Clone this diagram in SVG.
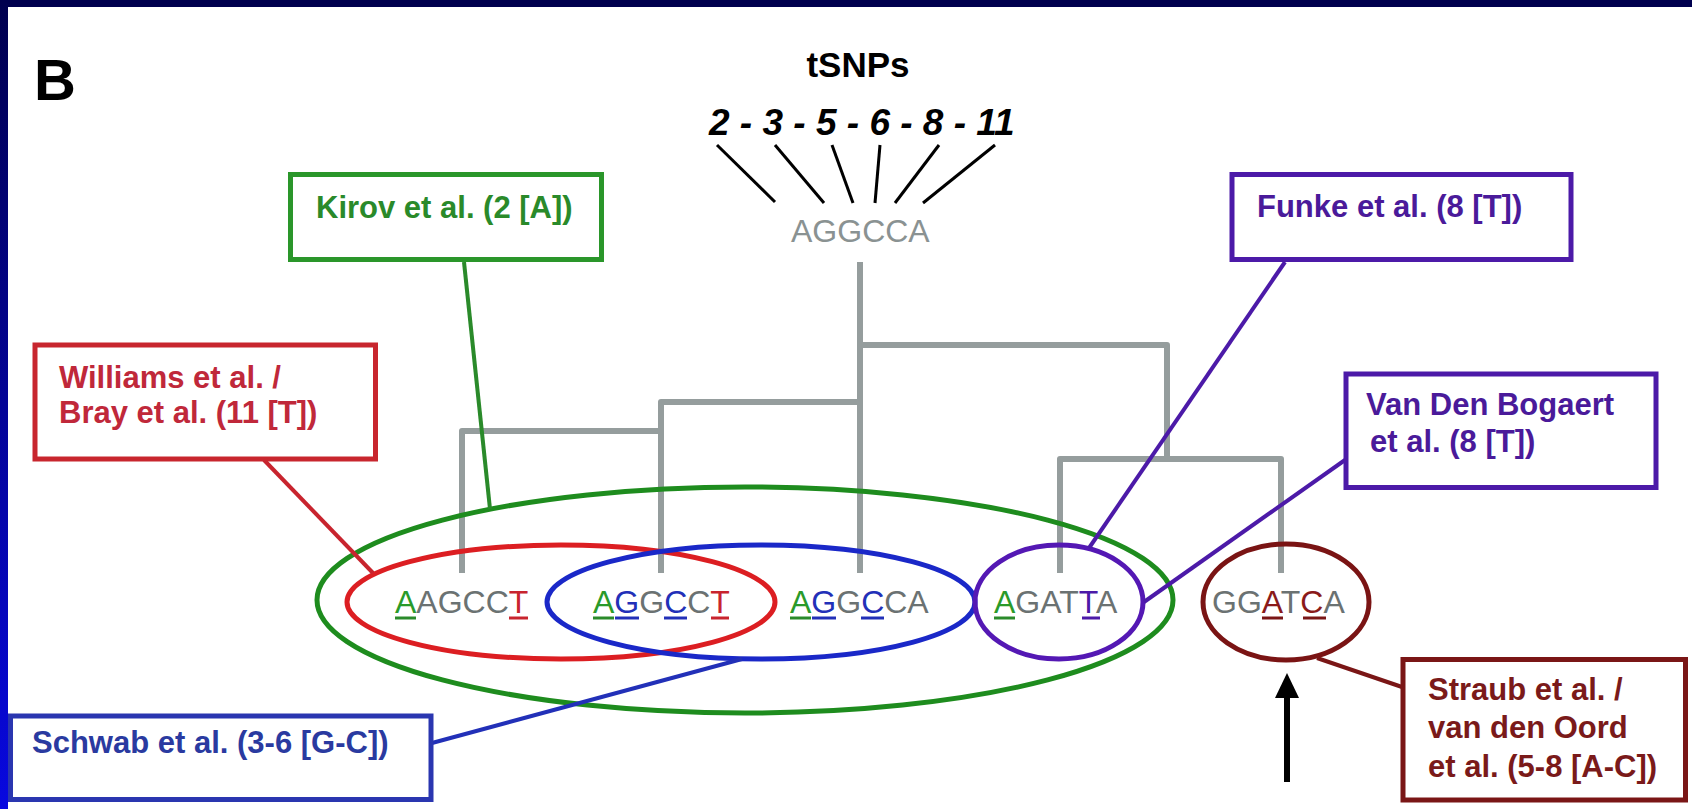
<svg xmlns="http://www.w3.org/2000/svg" width="1692" height="809" viewBox="0 0 1692 809">
<defs>
<linearGradient id="lb" x1="0" y1="0" x2="0" y2="1">
<stop offset="0" stop-color="#00004e"/>
<stop offset="1" stop-color="#0808e0"/>
</linearGradient>
<style>
.lbl{font-family:"Liberation Sans",Arial,sans-serif;font-weight:bold;font-size:31px}
.hap{font-family:"Liberation Sans",Arial,sans-serif;font-size:32px;fill:#6b7272}
.box{fill:#fff;stroke-width:5}
.ell{fill:none;stroke-width:5}
.con{fill:none;stroke-width:4}
.tree{fill:none;stroke:#959d9d;stroke-width:6;stroke-linejoin:round}
.ul{stroke-width:3}
.fan{stroke:#000;stroke-width:3}
.g{fill:#2a8a2a;stroke:#2a8a2a}
.r{fill:#c8242e;stroke:#c8242e}
.b{fill:#2230b8;stroke:#2230b8}
.p{fill:#4c1aa8;stroke:#4c1aa8}
.m{fill:#7a1616;stroke:#7a1616}
</style>
</defs>
<rect width="1692" height="809" fill="#fff"/>
<rect x="0" y="0" width="1692" height="7" fill="#00004e"/>
<rect x="0" y="0" width="8" height="809" fill="url(#lb)"/>

<text x="34" y="100" font-family="Liberation Sans, Arial, sans-serif" font-weight="bold" font-size="58" fill="#000">B</text>

<g id="header">
<text x="858" y="77" text-anchor="middle" font-family="Liberation Sans, Arial, sans-serif" font-weight="bold" font-size="35" fill="#000">tSNPs</text>
<text x="709" y="135" font-family="Liberation Sans, Arial, sans-serif" font-weight="bold" font-style="italic" font-size="37" fill="#000">2 - 3 - 5 - 6 - 8 - 11</text>
<line class="fan" x1="717" y1="145" x2="775" y2="202"/>
<line class="fan" x1="775" y1="145" x2="824" y2="203"/>
<line class="fan" x1="832" y1="145" x2="853" y2="203"/>
<line class="fan" x1="880" y1="145" x2="875" y2="203"/>
<line class="fan" x1="939" y1="145" x2="895" y2="203"/>
<line class="fan" x1="995" y1="145" x2="923" y2="203"/>
</g>

<g id="root">
<text x="791" y="242" font-family="Liberation Sans, Arial, sans-serif" font-size="32" fill="#8a9292">AGGCCA</text>
</g>

<g id="tree">
<path class="tree" d="M860 262V573M860 345H1167V459M1060 573V459H1281V573M860 402H661V573M661 431H462V573"/>
</g>

<g id="ellipses">
<ellipse id="ell-green" class="ell" stroke="#1e8c1e" cx="745" cy="600" rx="428" ry="113"/>
<ellipse id="ell-red" class="ell" stroke="#dc1e22" cx="561" cy="602" rx="214" ry="57"/>
<ellipse id="ell-blue" class="ell" stroke="#1a28c8" cx="761" cy="602" rx="214" ry="57"/>
<ellipse id="ell-purple" class="ell" stroke="#5418b4" cx="1059" cy="602" rx="84" ry="57"/>
<ellipse id="ell-maroon" class="ell" stroke="#7a1414" cx="1286" cy="602" rx="83" ry="58"/>
</g>

<g id="hap-AAGCCT">
<text class="hap" x="395" y="613"><tspan fill="#2a9a2a">A</tspan>AGCC<tspan fill="#c8242e">T</tspan></text>
<line class="ul g" x1="395" y1="618" x2="416" y2="618"/>
<line class="ul r" x1="509" y1="618" x2="528" y2="618"/>
</g>
<g id="hap-AGGCCT">
<text class="hap" x="593" y="613"><tspan fill="#2a9a2a">A</tspan><tspan fill="#2230b8">G</tspan>G<tspan fill="#2230b8">C</tspan>C<tspan fill="#c8242e">T</tspan></text>
<line class="ul g" x1="593" y1="618" x2="614" y2="618"/>
<line class="ul b" x1="615" y1="618" x2="639" y2="618"/>
<line class="ul b" x1="664" y1="618" x2="687" y2="618"/>
<line class="ul r" x1="711" y1="618" x2="729" y2="618"/>
</g>
<g id="hap-AGGCCA">
<text class="hap" x="790" y="613"><tspan fill="#2a9a2a">A</tspan><tspan fill="#2230b8">G</tspan>G<tspan fill="#2230b8">C</tspan>CA</text>
<line class="ul g" x1="790" y1="618" x2="811" y2="618"/>
<line class="ul b" x1="812" y1="618" x2="836" y2="618"/>
<line class="ul b" x1="861" y1="618" x2="884" y2="618"/>
</g>
<g id="hap-AGATTA">
<text class="hap" x="994" y="613"><tspan fill="#2a9a2a">A</tspan>GAT<tspan fill="#4c1aa8">T</tspan>A</text>
<line class="ul g" x1="994" y1="618" x2="1015" y2="618"/>
<line class="ul p" x1="1082" y1="618" x2="1100" y2="618"/>
</g>
<g id="hap-GGATCA">
<text class="hap" x="1212" y="613">GG<tspan fill="#8a1a1a">A</tspan>T<tspan fill="#8a1a1a">C</tspan>A</text>
<line class="ul m" x1="1262" y1="618" x2="1283" y2="618"/>
<line class="ul m" x1="1303" y1="618" x2="1326" y2="618"/>
</g>

<g id="connectors">
<line class="con" stroke="#2a8a2a" x1="464" y1="262" x2="490" y2="509"/>
<line class="con" stroke="#c8242e" x1="264" y1="460" x2="373" y2="573"/>
<line class="con" stroke="#2230b8" x1="432" y1="743" x2="742" y2="659"/>
<line class="con" stroke="#4c1aa8" x1="1285" y1="262" x2="1089" y2="548"/>
<line class="con" stroke="#4c1aa8" x1="1345" y1="460" x2="1144" y2="602"/>
<line class="con" stroke="#7a1616" x1="1317" y1="658" x2="1402" y2="687"/>
<line stroke="#000" stroke-width="6" x1="1287" y1="694" x2="1287" y2="782"/>
<polygon points="1287,673 1275,698 1299,698" fill="#000"/>
</g>

<g id="kirov">
<rect class="box" stroke="#2a962a" x="290.5" y="174.5" width="311" height="85"/>
<text class="lbl" fill="#2a8a2a" x="316" y="218">Kirov et al. (2 [A])</text>
</g>
<g id="funke">
<rect class="box" stroke="#4c1aa8" x="1232" y="174.5" width="339" height="85"/>
<text class="lbl" fill="#4a1a9a" x="1257" y="217">Funke et al. (8 [T])</text>
</g>
<g id="williams">
<rect class="box" stroke="#c8262e" x="35" y="345" width="340.5" height="114"/>
<text class="lbl" fill="#c0283a" x="59" y="388">Williams et al. /</text>
<text class="lbl" fill="#c0283a" x="59" y="423">Bray et al. (11 [T])</text>
</g>
<g id="vandenbogaert">
<rect class="box" stroke="#4c1aa8" x="1346" y="374" width="310" height="113.5"/>
<text class="lbl" fill="#4a1a9a" x="1366" y="415">Van Den Bogaert</text>
<text class="lbl" fill="#4a1a9a" x="1370" y="452">et al. (8 [T])</text>
</g>
<g id="schwab">
<rect class="box" stroke="#2a36b0" x="10.5" y="716" width="420.5" height="83.5"/>
<text class="lbl" fill="#2a3aa0" x="32" y="753">Schwab et al. (3-6 [G-C])</text>
</g>
<g id="straub">
<rect class="box" stroke="#7a1616" x="1403" y="659.5" width="282.5" height="140.5"/>
<text class="lbl" fill="#7a1a1a" x="1428" y="700">Straub et al. /</text>
<text class="lbl" fill="#7a1a1a" x="1428" y="738">van den Oord</text>
<text class="lbl" fill="#7a1a1a" x="1428" y="777">et al. (5-8 [A-C])</text>
</g>
</svg>
